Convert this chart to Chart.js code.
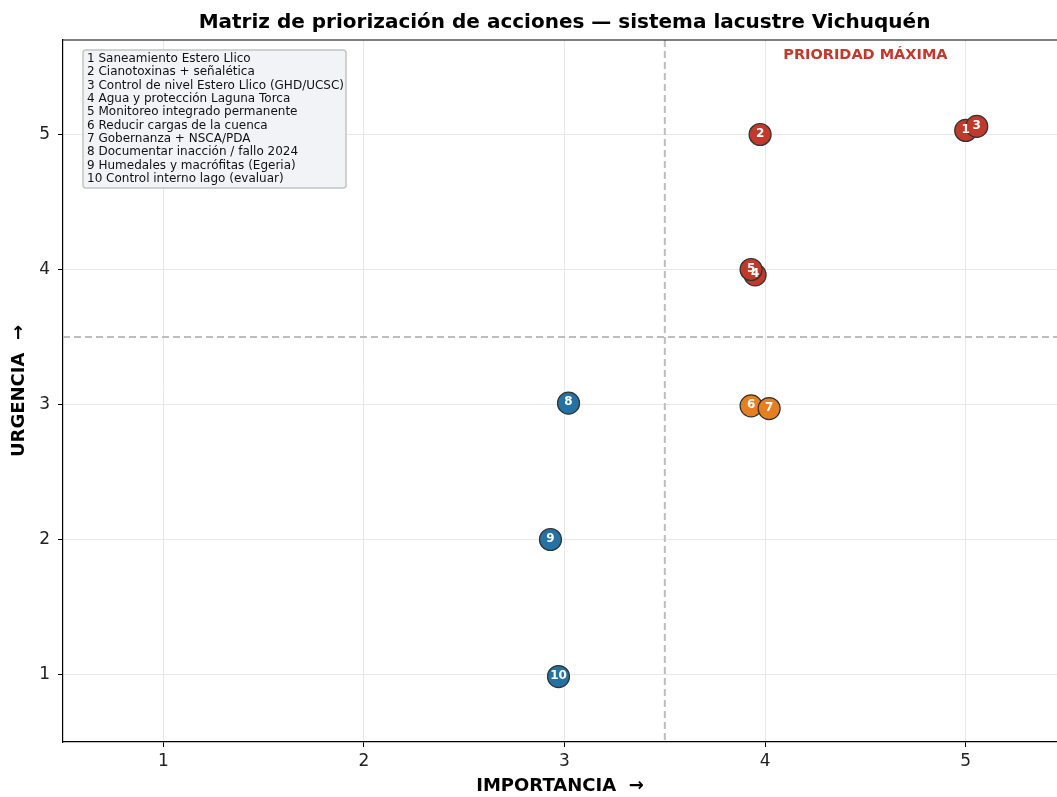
<!DOCTYPE html>
<html>
<head>
<meta charset="utf-8">
<script src="https://cdn.jsdelivr.net/npm/chart.js@4.4.0/dist/chart.umd.min.js"></script>
<style>
html,body{margin:0;padding:0;background:#fff;overflow:hidden;}
canvas{display:block;}
</style>
</head>
<body>
<canvas id="c" width="1057" height="797"></canvas>
<script>
/* ===== DATA ===== */
const TITLE='Matriz de priorización de acciones — sistema lacustre Vichuquén';
const X_TITLE='IMPORTANCIA  →';
const Y_TITLE='URGENCIA  →';
const ids=[1,2,3,4,5,6,7,8,9,10];
const importance=[5.00,3.975,5.055,3.95,3.93,3.93,4.02,3.02,2.93,2.97];
const urgency=[5.03,5.00,5.06,3.96,4.00,2.99,2.97,3.01,2.00,0.985];
const group=['alta','alta','alta','alta','alta','media','media','baja','baja','baja'];
const actions=[
  '1 Saneamiento Estero Llico',
  '2 Cianotoxinas + señalética',
  '3 Control de nivel Estero Llico (GHD/UCSC)',
  '4 Agua y protección Laguna Torca',
  '5 Monitoreo integrado permanente',
  '6 Reducir cargas de la cuenca',
  '7 Gobernanza + NSCA/PDA',
  '8 Documentar inacción / fallo 2024',
  '9 Humedales y macrófitas (Egeria)',
  '10 Control interno lago (evaluar)'
];
const xTicks=[1,2,3,4,5];
const yTicks=[1,2,3,4,5];
// the original figure is cut off on the right just past x=5.45
const X_RANGE=[0.5,5.455];
const Y_RANGE=[0.5,5.7];
const THRESH=3.5;
const ZONE_LABEL='PRIORIDAD MÁXIMA';
const ZONE_POS=[4.5,5.59];

const GROUP_COLORS={alta:'#c0392b',media:'#e67e22',baja:'#2471a3'};
const FONT='"DejaVu Sans", sans-serif';

/* ===== PLUGINS ===== */
const decor={
  id:'decor',
  beforeDatasetsDraw(chart){
    const {ctx,chartArea:a,scales:{x,y}}=chart;
    ctx.save();
    ctx.strokeStyle='#bdbdbd';ctx.lineWidth=2;ctx.setLineDash([7,4]);
    const px=x.getPixelForValue(THRESH), py=y.getPixelForValue(THRESH);
    ctx.beginPath();ctx.moveTo(px,a.top);ctx.lineTo(px,a.bottom);ctx.stroke();
    ctx.beginPath();ctx.moveTo(a.left,py);ctx.lineTo(a.right,py);ctx.stroke();
    ctx.restore();
  },
  afterDatasetsDraw(chart){
    const {ctx,chartArea:a,scales:{x,y}}=chart;
    ctx.save();
    // top spine
    ctx.strokeStyle='#000';ctx.lineWidth=1.2;
    ctx.beginPath();ctx.moveTo(a.left,a.top);ctx.lineTo(chart.width,a.top);ctx.stroke();
    // point numbers
    ctx.fillStyle='#fff';ctx.font='bold 12px '+FONT;
    ctx.textAlign='center';ctx.textBaseline='middle';
    ids.forEach((id,i)=>{
      ctx.fillText(String(id),x.getPixelForValue(importance[i]),y.getPixelForValue(urgency[i])-1);
    });
    // zone label
    ctx.fillStyle='#c0392b';ctx.font='bold 14.5px '+FONT;
    ctx.fillText(ZONE_LABEL,x.getPixelForValue(ZONE_POS[0]),y.getPixelForValue(ZONE_POS[1]));
    // title (centred on the full plot area, incl. the cut-off part)
    ctx.fillStyle='#000';ctx.font='bold 20px '+FONT;
    ctx.fillText(TITLE,(a.left+x.getPixelForValue(5.5))/2,23);
    // action list box
    const bx=a.left+20, by=a.top+10, bw=263, bh=138, lh=13.33;
    ctx.beginPath();ctx.roundRect(bx,by,bw,bh,3);
    ctx.fillStyle='rgba(240,242,245,0.92)';ctx.fill();
    ctx.strokeStyle='#c4c4c4';ctx.lineWidth=1.5;ctx.stroke();
    ctx.fillStyle='#111';ctx.font='12px '+FONT;ctx.textAlign='left';
    actions.forEach((t,i)=>ctx.fillText(t,bx+4,by+9+i*lh));
    ctx.restore();
  }
};

/* ===== CHART ===== */
new Chart(document.getElementById('c'),{
  type:'scatter',
  data:{
    datasets:[{
      data:ids.map((_,i)=>({x:importance[i],y:urgency[i]})),
      backgroundColor:group.map(g=>GROUP_COLORS[g]),
      borderColor:'#333',borderWidth:1.2,
      pointRadius:11,pointHoverRadius:11
    }]
  },
  options:{
    responsive:false,animation:false,
    layout:{autoPadding:false,padding:{top:40,right:0,left:0,bottom:0}},
    plugins:{legend:{display:false},tooltip:{enabled:false},title:{display:false}},
    scales:{
      x:{
        type:'linear',min:X_RANGE[0],max:X_RANGE[1],
        afterBuildTicks:s=>{s.ticks=xTicks.map(v=>({value:v}));},
        afterFit:s=>{s.height=55;},
        ticks:{color:'#222',font:{family:FONT,size:17},padding:4},
        grid:{color:'#e8e8e8',lineWidth:1,tickColor:'#000',tickLength:5},
        border:{display:true,color:'#000',width:1.2},
        title:{display:true,text:X_TITLE,color:'#000',font:{family:FONT,size:18,weight:'bold'},padding:{top:0,bottom:0}}
      },
      y:{
        type:'linear',min:Y_RANGE[0],max:Y_RANGE[1],
        afterBuildTicks:s=>{s.ticks=yTicks.map(v=>({value:v}));},
        afterFit:s=>{s.width=63;},
        ticks:{color:'#222',font:{family:FONT,size:17},padding:8},
        grid:{color:'#e8e8e8',lineWidth:1,tickColor:'#000',tickLength:5},
        border:{display:true,color:'#000',width:1.2},
        title:{display:true,text:Y_TITLE,color:'#000',font:{family:FONT,size:18,weight:'bold'},padding:{top:9,bottom:0}}
      }
    }
  },
  plugins:[decor]
});
</script>
</body>
</html>
